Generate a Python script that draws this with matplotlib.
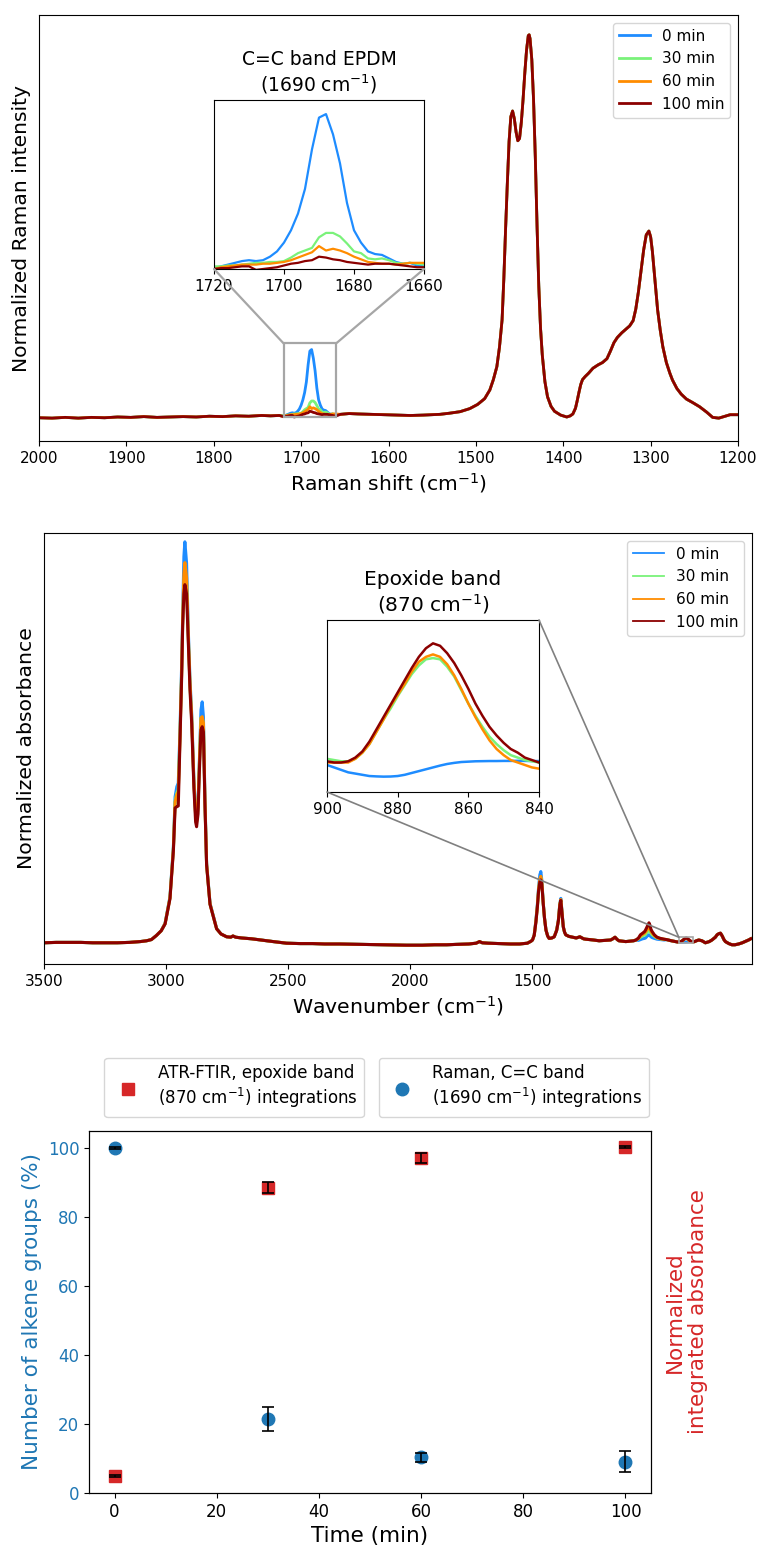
import numpy as np
import matplotlib
matplotlib.use("Agg")
import matplotlib.pyplot as plt
from matplotlib.patches import Rectangle, ConnectionPatch
from matplotlib.lines import Line2D

# ---------------------------------------------------------------- series
labels = ["0 min", "30 min", "60 min", "100 min"]
colors = ["#1e8cff", "#7af27a", "#ff8c00", "#8b0000"]

# Raman spectrum (normalized intensity), common part high wavenumber side
raman_left_shift = [2000, 1985, 1970, 1955, 1940, 1925, 1910, 1895, 1880, 1865,
                    1850, 1835, 1820, 1805, 1790, 1775, 1760, 1745, 1735, 1725]
raman_left = [-0.005, -0.006, -0.004, -0.006, -0.004, -0.005, -0.003, -0.004, -0.002, -0.004,
              -0.003, -0.002, -0.003, -0.001, -0.002, 0.000, -0.001, 0.001, 0.000, 0.001]

# C=C band region, one curve per reaction time
raman_band_shift = [1720, 1718, 1716, 1714, 1712, 1710, 1708, 1706, 1704, 1702,
                    1700, 1698, 1696, 1694, 1692, 1690, 1688, 1686, 1684, 1682,
                    1680, 1678, 1676, 1674, 1672, 1670, 1668, 1666, 1664, 1662, 1660]
raman_band_0 = [-0.001, 0.001, 0.003, 0.005, 0.007, 0.008, 0.007, 0.008, 0.012, 0.018,
                0.028, 0.042, 0.061, 0.089, 0.134, 0.170, 0.174, 0.151, 0.118, 0.073,
                0.042, 0.028, 0.018, 0.015, 0.014, 0.010, 0.006, 0.004, 0.005, 0.002, 0.001]
raman_band_30 = [0.001, 0.001, 0.002, 0.002, 0.003, 0.004, 0.005, 0.005, 0.006, 0.006,
                 0.007, 0.011, 0.016, 0.019, 0.022, 0.034, 0.039, 0.039, 0.035, 0.027,
                 0.018, 0.016, 0.010, 0.009, 0.010, 0.008, 0.005, 0.004, 0.005, 0.004, 0.003]
raman_band_60 = [-0.002, 0.000, 0.001, 0.002, 0.003, 0.003, 0.003, 0.004, 0.004, 0.005,
                 0.006, 0.008, 0.011, 0.014, 0.017, 0.024, 0.019, 0.021, 0.019, 0.016,
                 0.012, 0.009, 0.006, 0.005, 0.004, 0.004, 0.003, 0.004, 0.005, 0.005, 0.005]
raman_band_100 = [-0.002, -0.001, -0.001, 0.000, 0.001, 0.001, -0.003, -0.002, -0.001, 0.000,
                  0.002, 0.004, 0.005, 0.007, 0.008, 0.012, 0.011, 0.009, 0.008, 0.006,
                  0.005, 0.004, 0.003, 0.004, 0.004, 0.004, 0.003, 0.002, 0.001, 0.000, 0.000]

# common part, CH2/CH3 deformation and twisting region
raman_right_shift = [1655, 1645, 1635, 1620, 1605, 1590, 1575, 1560, 1550, 1541,
                     1530, 1518, 1507, 1498, 1490, 1484, 1480, 1476, 1473, 1470,
                     1468, 1466, 1464, 1462, 1460, 1458, 1456, 1454, 1452, 1450,
                     1448, 1446, 1444, 1442, 1440, 1439, 1438, 1436, 1434, 1432,
                     1430, 1428, 1426, 1424, 1421, 1418, 1414, 1410, 1403, 1396,
                     1392, 1389, 1386, 1384, 1382, 1380, 1378, 1375, 1371, 1366,
                     1360, 1355, 1350, 1346, 1342, 1338, 1333, 1328, 1324, 1320,
                     1317, 1314, 1311, 1308, 1305, 1302, 1300, 1298, 1296, 1294,
                     1292, 1289, 1286, 1282, 1278, 1275, 1270, 1265, 1259, 1252,
                     1244, 1236, 1229, 1222, 1215, 1209, 1201]
raman_right = [0.004, 0.006, 0.005, 0.004, 0.003, 0.002, 0.001, 0.002, 0.003, 0.004,
               0.007, 0.011, 0.019, 0.030, 0.045, 0.068, 0.095, 0.129, 0.180, 0.252,
               0.360, 0.490, 0.610, 0.720, 0.785, 0.800, 0.780, 0.745, 0.722, 0.728,
               0.770, 0.830, 0.900, 0.960, 0.998, 1.000, 0.990, 0.935, 0.830, 0.680,
               0.500, 0.340, 0.230, 0.160, 0.090, 0.050, 0.025, 0.012, 0.002, -0.003,
               0.000, 0.005, 0.020, 0.040, 0.062, 0.082, 0.095, 0.103, 0.112, 0.125,
               0.134, 0.140, 0.150, 0.170, 0.192, 0.206, 0.218, 0.228, 0.236, 0.250,
               0.280, 0.325, 0.380, 0.435, 0.475, 0.485, 0.470, 0.432, 0.380, 0.325,
               0.278, 0.225, 0.181, 0.140, 0.112, 0.094, 0.072, 0.057, 0.044, 0.035,
               0.024, 0.010, -0.004, -0.006, -0.001, 0.003, 0.003]

# ATR-FTIR spectrum (normalized absorbance)
ftir_a_wn = [3500, 3450, 3400, 3350, 3300, 3250, 3200, 3150, 3106, 3080, 3060, 3040, 3020]
ftir_a = [-0.002, -0.001, -0.001, -0.001, -0.002, -0.002, -0.002, -0.001, 0.001, 0.003,
          0.006, 0.016, 0.028]

ftir_ch_wn = [3004, 2984, 2970, 2963, 2956, 2950, 2943, 2936, 2932, 2927, 2923, 2916, 2909,
              2902, 2895, 2886, 2879, 2875, 2869, 2864, 2857, 2852, 2847, 2841, 2834, 2820, 2793]
ftir_ch_0 = [0.047, 0.113, 0.238, 0.363, 0.388, 0.397, 0.530, 0.697, 0.820, 0.963, 1.000, 0.947,
             0.780, 0.655, 0.570, 0.405, 0.330, 0.313, 0.347, 0.447, 0.580, 0.600, 0.563, 0.363,
             0.197, 0.097, 0.034]
ftir_ch_30 = [0.046, 0.111, 0.234, 0.352, 0.372, 0.380, 0.515, 0.680, 0.800, 0.900, 0.925, 0.900,
              0.760, 0.640, 0.556, 0.395, 0.318, 0.300, 0.335, 0.435, 0.560, 0.560, 0.545, 0.355,
              0.193, 0.095, 0.033]
ftir_ch_60 = [0.046, 0.110, 0.232, 0.350, 0.368, 0.375, 0.512, 0.678, 0.800, 0.920, 0.948, 0.910,
              0.765, 0.645, 0.560, 0.398, 0.320, 0.302, 0.338, 0.438, 0.560, 0.563, 0.548, 0.357,
              0.195, 0.095, 0.033]
ftir_ch_100 = [0.045, 0.108, 0.228, 0.335, 0.338, 0.340, 0.500, 0.665, 0.790, 0.870, 0.893, 0.870,
               0.750, 0.630, 0.545, 0.385, 0.300, 0.288, 0.320, 0.420, 0.530, 0.538, 0.525, 0.350,
               0.192, 0.094, 0.033]

ftir_c_wn = [2775, 2752, 2735, 2726, 2715, 2690, 2650, 2600, 2561, 2507, 2450, 2400, 2350,
             2289, 2200, 2100, 2016, 1950, 1900, 1850, 1812, 1760, 1730, 1716, 1705, 1680,
             1634, 1590, 1552, 1520, 1505]
ftir_c = [0.020, 0.013, 0.012, 0.015, 0.012, 0.010, 0.008, 0.004, 0.001, -0.003, -0.004,
          -0.004, -0.005, -0.005, -0.006, -0.007, -0.008, -0.008, -0.007, -0.007, -0.006,
          -0.005, -0.003, 0.001, -0.002, -0.003, -0.004, -0.005, -0.005, -0.003, 0.002]

ftir_def_wn = [1499, 1492, 1485, 1479, 1474, 1469, 1465, 1461, 1458, 1455, 1450, 1444, 1437,
               1431, 1420, 1410, 1400, 1393, 1387, 1383, 1379, 1376, 1373, 1368, 1363]
ftir_def_0 = [0.005, 0.018, 0.055, 0.095, 0.138, 0.168, 0.176, 0.155, 0.125, 0.097, 0.060, 0.030,
              0.015, 0.009, 0.010, 0.013, 0.030, 0.055, 0.097, 0.109, 0.080, 0.058, 0.038, 0.025, 0.018]
ftir_def_30 = [0.005, 0.017, 0.052, 0.090, 0.131, 0.156, 0.162, 0.149, 0.121, 0.096, 0.060, 0.030,
               0.015, 0.009, 0.010, 0.013, 0.030, 0.054, 0.095, 0.105, 0.079, 0.058, 0.038, 0.025, 0.018]
ftir_def_60 = [0.005, 0.017, 0.052, 0.090, 0.132, 0.158, 0.164, 0.150, 0.122, 0.096, 0.060, 0.030,
               0.015, 0.009, 0.010, 0.013, 0.030, 0.054, 0.095, 0.106, 0.079, 0.058, 0.038, 0.025, 0.018]
ftir_def_100 = [0.005, 0.017, 0.050, 0.088, 0.128, 0.150, 0.155, 0.145, 0.120, 0.095, 0.060, 0.030,
                0.015, 0.009, 0.010, 0.013, 0.029, 0.053, 0.093, 0.104, 0.078, 0.057, 0.038, 0.025, 0.018]

ftir_e_wn = [1350, 1335, 1320, 1305, 1290, 1281, 1250, 1226, 1200, 1179, 1170, 1161, 1152,
             1145, 1130, 1117, 1100, 1085, 1075]
ftir_e = [0.014, 0.012, 0.010, 0.013, 0.008, 0.007, 0.005, 0.003, 0.004, 0.005, 0.008, 0.012,
          0.006, 0.003, 0.002, 0.001, 0.002, 0.003, 0.005]

ftir_co_wn = [1065, 1057, 1048, 1040, 1036, 1030, 1026, 1022, 1018, 1014, 1009, 1000, 989, 975, 960]
ftir_co_0 = [0.004, 0.006, 0.008, 0.009, 0.010, 0.014, 0.017, 0.018, 0.016, 0.013, 0.011, 0.009,
             0.007, 0.006, 0.005]
ftir_co_30 = [0.008, 0.012, 0.015, 0.017, 0.019, 0.024, 0.028, 0.030, 0.027, 0.022, 0.018, 0.014,
              0.010, 0.008, 0.006]
ftir_co_60 = [0.009, 0.015, 0.019, 0.022, 0.025, 0.030, 0.035, 0.038, 0.034, 0.027, 0.022, 0.016,
              0.011, 0.008, 0.007]
ftir_co_100 = [0.010, 0.018, 0.022, 0.026, 0.030, 0.038, 0.044, 0.048, 0.042, 0.032, 0.026, 0.018,
               0.012, 0.009, 0.007]

ftir_g_wn = [950, 930, 913, 905]
ftir_g = [0.006, 0.003, 0.001, 0.000]

# epoxide band region, one curve per reaction time
ftir_ep_wn = [900, 898, 896, 894, 892, 890, 888, 886, 884, 882, 880, 878, 876, 874, 872, 870,
              868, 866, 864, 862, 860, 858, 856, 854, 852, 850, 848, 846, 844, 842, 840]
ftir_ep_0 = [0.0002, 0.0000, -0.0002, -0.0004, -0.0005, -0.0006, -0.0007, -0.00073, -0.00075,
             -0.00074, -0.0007, -0.0006, -0.00045, -0.0003, -0.00015, 0.0000, 0.00015, 0.00028,
             0.00037, 0.00044, 0.00047, 0.0005, 0.00051, 0.00052, 0.00052, 0.00053, 0.00053,
             0.00054, 0.00053, 0.00052, 0.00052]
ftir_ep_30 = [0.0007, 0.0006, 0.0005, 0.0005, 0.0007, 0.0012, 0.0019, 0.0029, 0.0039, 0.0048,
              0.0058, 0.0067, 0.0076, 0.0083, 0.0088, 0.0089, 0.0088, 0.0082, 0.0074, 0.0063,
              0.0052, 0.0042, 0.0033, 0.0025, 0.0019, 0.0014, 0.0010, 0.0008, 0.0006, 0.0005, 0.0004]
ftir_ep_60 = [0.0004, 0.0004, 0.0004, 0.0004, 0.0007, 0.0012, 0.0019, 0.0029, 0.0039, 0.0050,
              0.0059, 0.0068, 0.0078, 0.0086, 0.0090, 0.0092, 0.0090, 0.0084, 0.0075, 0.0064,
              0.0052, 0.0041, 0.0031, 0.0022, 0.0015, 0.0010, 0.0006, 0.0004, 0.0002, 0.0000, -0.0001]
ftir_ep_100 = [0.0005, 0.0004, 0.0004, 0.0005, 0.0008, 0.0013, 0.0021, 0.0031, 0.0041, 0.0051,
               0.0061, 0.0071, 0.0081, 0.0090, 0.0097, 0.0101, 0.0099, 0.0093, 0.0085, 0.0075,
               0.0064, 0.0052, 0.0042, 0.0033, 0.0026, 0.0020, 0.0015, 0.0012, 0.0008, 0.0006, 0.0004]

ftir_h_wn = [835, 828, 818, 805, 791, 775, 764, 750, 743, 735, 729, 722, 715, 709, 695, 682,
             670, 655, 640, 625, 614, 605]
ftir_h = [0.001, 0.003, 0.005, 0.003, -0.002, 0.001, 0.005, 0.012, 0.018, 0.021, 0.022, 0.015,
          0.006, 0.001, -0.004, -0.007, -0.007, -0.005, -0.002, 0.002, 0.005, 0.008]

# integrated band areas vs. reaction time
time_min = [0, 30, 60, 100]
alkene_pct = [100.0, 21.5, 10.3, 9.0]
alkene_err = [0.3, 3.4, 1.35, 3.05]
epoxide_norm = [4.8, 88.5, 97.1, 100.3]
epoxide_err = [0.3, 1.6, 1.5, 0.3]

# ---------------------------------------------------------------- assembly
raman_bands = [raman_band_0, raman_band_30, raman_band_60, raman_band_100]
raman_x = np.array(raman_left_shift + raman_band_shift + raman_right_shift, dtype=float)
raman_curves = [np.array(raman_left + b + raman_right) for b in raman_bands]

ftir_x = np.array(ftir_a_wn + ftir_ch_wn + ftir_c_wn + ftir_def_wn + ftir_e_wn + ftir_co_wn
                  + ftir_g_wn + ftir_ep_wn + ftir_h_wn, dtype=float)
ftir_parts = [
    (ftir_ch_0, ftir_def_0, ftir_co_0, ftir_ep_0),
    (ftir_ch_30, ftir_def_30, ftir_co_30, ftir_ep_30),
    (ftir_ch_60, ftir_def_60, ftir_co_60, ftir_ep_60),
    (ftir_ch_100, ftir_def_100, ftir_co_100, ftir_ep_100),
]
ftir_curves = [np.array(ftir_a + ch + ftir_c + de + ftir_e + co + ftir_g + ep + ftir_h)
               for ch, de, co, ep in ftir_parts]

# ---------------------------------------------------------------- figure
W, H = 760, 1546
fig = plt.figure(figsize=(W / 100, H / 100), dpi=100)


def px_axes(x0, y0, x1, y1):
    """Axes from pixel box (left, top, right, bottom)."""
    return fig.add_axes([x0 / W, 1 - y1 / H, (x1 - x0) / W, (y1 - y0) / H])


TICK_FS = 11

# ---- Raman panel
ax1 = px_axes(39, 15, 738, 441)
for y, c, lab in zip(raman_curves, colors, labels):
    ax1.plot(raman_x, y, color=c, lw=2, label=lab)
ax1.set_xlim(2000, 1200)
ax1.set_ylim(-0.066, 1.052)
ax1.set_yticks([])
ax1.set_xticks([2000, 1900, 1800, 1700, 1600, 1500, 1400, 1300, 1200])
ax1.tick_params(labelsize=TICK_FS)
ax1.set_xlabel("Raman shift (cm$^{-1}$)", fontsize=14.6)
ax1.set_ylabel("Normalized Raman intensity", fontsize=14.6, labelpad=6)
ax1.legend(loc="upper right", fontsize=TICK_FS)

ins1 = px_axes(214, 100, 424, 269)
band_x = np.array(raman_band_shift, dtype=float)
for b, c in zip(raman_bands, colors):
    ins1.plot(band_x, b, color=c, lw=1.6)
ins1.set_xlim(1720, 1660)
ins1.set_ylim(-0.002, 0.190)
ins1.set_yticks([])
ins1.set_xticks([1720, 1700, 1680, 1660])
ins1.tick_params(labelsize=TICK_FS)
ins1.set_title("C=C band EPDM\n(1690 cm$^{-1}$)", fontsize=13.5)

r1 = Rectangle((1660, -0.002), 60, 0.192, fill=False, ec="#a6a6a6", lw=1.6, zorder=5)
ax1.add_patch(r1)
for ca, cb in [((0, 0), (1720, 0.190)), ((1, 0), (1660, 0.190))]:
    con = ConnectionPatch(xyA=ca, coordsA=ins1.transAxes, xyB=cb, coordsB=ax1.transData,
                          color="#a6a6a6", lw=1.6)
    fig.add_artist(con)

# ---- ATR-FTIR panel
ax2 = px_axes(44, 533, 752, 964)
for y, c, lab in zip(ftir_curves, colors, labels):
    ax2.plot(ftir_x, y, color=c, lw=2.2, label=lab)
ax2.set_xlim(3500, 600)
ax2.set_ylim(-0.055, 1.022)
ax2.set_yticks([])
ax2.set_xticks([3500, 3000, 2500, 2000, 1500, 1000])
ax2.tick_params(labelsize=TICK_FS)
ax2.set_xlabel("Wavenumber (cm$^{-1}$)", fontsize=14.7)
ax2.set_ylabel("Normalized absorbance", fontsize=14.7, labelpad=5.5)
leg2 = ax2.legend(loc="upper right", fontsize=TICK_FS)
for ln in leg2.get_lines():
    ln.set_linewidth(1.3)

ins2 = px_axes(327, 620, 539, 792)
ep_x = np.array(ftir_ep_wn, dtype=float)
for (_, _, _, ep), c in zip(ftir_parts, colors):
    ins2.plot(ep_x, ep, color=c, lw=1.8)
ins2.set_xlim(900, 840)
ins2.set_ylim(-0.002, 0.012)
ins2.set_yticks([])
ins2.set_xticks([900, 880, 860, 840])
ins2.tick_params(labelsize=TICK_FS)
ins2.set_title("Epoxide band\n(870 cm$^{-1}$)", fontsize=14.5)

r2 = Rectangle((840, -0.002), 60, 0.014, fill=False, ec="#a6a6a6", lw=1.2, zorder=5)
ax2.add_patch(r2)
for ca in [(0, 0), (1, 1)]:
    con = ConnectionPatch(xyA=ca, coordsA=ins2.transAxes, xyB=(900, 0.012),
                          coordsB=ax2.transData, color="#808080", lw=1.2)
    fig.add_artist(con)

# ---- integrated band areas
ax3 = px_axes(89, 1131, 651, 1493)
ax4 = ax3.twinx()
ax3.plot(time_min, alkene_pct, "o", color="tab:blue", ms=9, zorder=2)
ax3.errorbar(time_min, alkene_pct, yerr=alkene_err, fmt="none", ecolor="black",
             elinewidth=1.2, capsize=4.5, capthick=1.2, zorder=3)
ax4.plot(time_min, epoxide_norm, "s", color="tab:red", ms=9, zorder=2)
ax4.errorbar(time_min, epoxide_norm, yerr=epoxide_err, fmt="none", ecolor="black",
             elinewidth=1.2, capsize=4.5, capthick=1.2, zorder=3)
ax3.set_xlim(-5, 105)
ax3.set_ylim(0, 105)
ax4.set_ylim(0, 105)
ax4.set_yticks([])
ax3.set_xticks([0, 20, 40, 60, 80, 100])
ax3.set_yticks([0, 20, 40, 60, 80, 100])
ax3.tick_params(labelsize=12)
ax3.tick_params(axis="y", labelcolor="tab:blue")
ax3.set_xlabel("Time (min)", fontsize=15.5)
ax3.set_ylabel("Number of alkene groups (%)", fontsize=15.5, color="tab:blue")
ax4.set_ylabel("Normalized\nintegrated absorbance", fontsize=15.5, color="tab:red",
               labelpad=10)

h_red = Line2D([], [], ls="none", marker="s", color="tab:red", ms=9)
h_blue = Line2D([], [], ls="none", marker="o", color="tab:blue", ms=9)
ax4.legend([h_red], ["ATR-FTIR, epoxide band\n(870 cm$^{-1}$) integrations"],
           loc="lower left", bbox_to_anchor=(0.027, 1.039), borderaxespad=0,
           fontsize=12)
ax3.legend([h_blue], ["Raman, C=C band\n(1690 cm$^{-1}$) integrations"],
           loc="lower right", bbox_to_anchor=(0.996, 1.039), borderaxespad=0,
           fontsize=12)

fig.savefig("out.png", dpi=100)
